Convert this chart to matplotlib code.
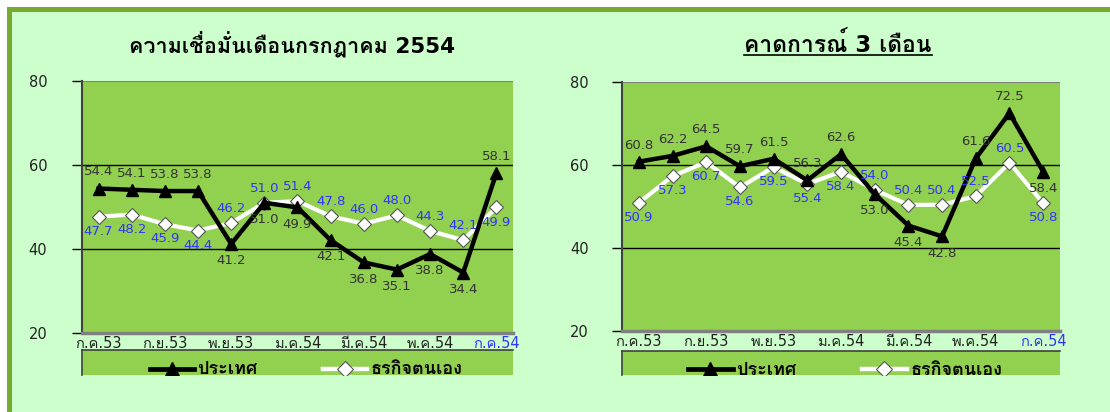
import matplotlib
matplotlib.use("Agg")
import matplotlib.pyplot as plt
from matplotlib.patches import Rectangle
from matplotlib.lines import Line2D

plt.rcParams['font.family'] = ['DejaVu Sans', 'Loma']

months = ['ก.ค.53', 'ส.ค.53', 'ก.ย.53', 'ต.ค.53', 'พ.ย.53', 'ธ.ค.53', 'ม.ค.54',
          'ก.พ.54', 'มี.ค.54', 'เม.ย.54', 'พ.ค.54', 'มิ.ย.54', 'ก.ค.54']

# ความเชื่อมั่นเดือนกรกฎาคม 2554
now_country = [54.4, 54.1, 53.8, 53.8, 41.2, 51.0, 49.9, 42.1, 36.8, 35.1, 38.8, 34.4, 58.1]
now_business = [47.7, 48.2, 45.9, 44.4, 46.2, 51.0, 51.4, 47.8, 46.0, 48.0, 44.3, 42.1, 49.9]

# คาดการณ์ 3 เดือน
fc_country = [60.8, 62.2, 64.5, 59.7, 61.5, 56.3, 62.6, 53.0, 45.4, 42.8, 61.6, 72.5, 58.4]
fc_business = [50.9, 57.3, 60.7, 54.6, 59.5, 55.4, 58.4, 54.0, 50.4, 50.4, 52.5, 60.5, 50.8]

# label side: 1 above, -1 below
now_country_pos = [1, 1, 1, 1, -1, -1, -1, -1, -1, -1, -1, -1, 1]
now_business_pos = [-1, -1, -1, -1, 1, 1, 1, 1, 1, 1, 1, 1, -1]
fc_country_pos = [1, 1, 1, 1, 1, 1, 1, -1, -1, -1, 1, 1, -1]
fc_business_pos = [-1, -1, -1, -1, -1, -1, -1, 1, 1, 1, 1, 1, -1]

W, H = 1110, 412
fig = plt.figure(figsize=(W / 100, H / 100), dpi=100)
fig.patch.set_facecolor('white')

# frame: white margin, green border, light green panel
fig.patches.append(Rectangle((7 / W, 0), 1, (H - 7) / H, transform=fig.transFigure,
                             facecolor='#77AA33', edgecolor='none', zorder=-3))
fig.patches.append(Rectangle((12 / W, 0), 1, (H - 12) / H, transform=fig.transFigure,
                             facecolor='#CCFFCC', edgecolor='none', zorder=-2))

PLOT_GREEN = '#92D050'
LABEL_DARK = '#333333'
LABEL_BLUE = '#3333FF'


def px_axes(x0, y0, x1, y1):
    return fig.add_axes([x0 / W, (H - y1) / H, (x1 - x0) / W, (y1 - y0) / H])


def draw_panel(box, legbox, country, business, cpos, bpos, title, title_x, title_size,
               tick_pad, leg_x):
    ax = px_axes(*box)
    ax.set_facecolor(PLOT_GREEN)
    x = list(range(len(months)))
    ax.plot(x, country, color='black', lw=3.2, marker='^', ms=9, mfc='black',
            mec='black', zorder=4, clip_on=False)
    ax.plot(x, business, color='white', lw=3.0, marker='D', ms=7.5, mfc='white',
            mec='#555555', mew=0.8, zorder=3, clip_on=False)
    for i in x:
        ax.annotate(f'{country[i]:.1f}', (i, country[i]), xytext=(0, 12 * cpos[i]),
                    textcoords='offset points', ha='center', va='center',
                    fontsize=9.5, color=LABEL_DARK, zorder=6, annotation_clip=False)
        ax.annotate(f'{business[i]:.1f}', (i, business[i]), xytext=(0, 10.5 * bpos[i]),
                    textcoords='offset points', ha='center', va='center',
                    fontsize=9.5, color=LABEL_BLUE, zorder=6, annotation_clip=False)
    ax.set_xlim(-0.5, len(months) - 0.5)
    ax.set_ylim(20, 80)
    ax.set_yticks([20, 40, 60, 80])
    ax.tick_params(axis='y', length=7, width=1, color='black', pad=tick_pad,
                   labelsize=10.5, labelcolor='#222222')
    ax.set_xticks(x[::2])
    ax.set_xticklabels(months[::2], fontsize=10.5, color='#222222')
    ax.get_xticklabels()[-1].set_color(LABEL_BLUE)
    ax.tick_params(axis='x', length=0, pad=2)
    for y in (40, 60):
        ax.axhline(y, color='black', lw=1, zorder=1)
    ax.axhline(80, color='#808080', lw=1.5, zorder=1)
    for s in ('top', 'right'):
        ax.spines[s].set_visible(False)
    ax.spines['left'].set_color('#404040')
    ax.spines['left'].set_linewidth(1.5)
    ax.spines['bottom'].set_color('#808080')
    ax.spines['bottom'].set_linewidth(2.5)

    # legend strip (cut off at the bottom, as in the source)
    lg = px_axes(*legbox)
    lg.set_facecolor(PLOT_GREEN)
    lg.set_xlim(0, 1)
    lg.set_ylim(0, 1)
    lg.set_xticks([])
    lg.set_yticks([])
    for s in ('right', 'bottom'):
        lg.spines[s].set_visible(False)
    for s in ('left', 'top'):
        lg.spines[s].set_color('#404040')
        lg.spines[s].set_linewidth(1.2)
    lx, lx2 = leg_x
    lg.plot([lx, lx + 0.102], [0.24, 0.24], color='black', lw=3.4)
    lg.plot([lx + 0.051], [0.24], marker='^', ms=10, color='black', clip_on=True)
    lg.text(lx + 0.11, 0.22, 'ประเทศ', fontsize=13, fontweight='bold',
            va='center', ha='left', clip_on=True)
    lg.plot([lx2, lx2 + 0.102], [0.24, 0.24], color='white', lw=3.2)
    lg.plot([lx2 + 0.051], [0.24], marker='D', ms=8, mfc='white', mec='#555555',
            mew=0.8, clip_on=True)
    lg.text(lx2 + 0.11, 0.22, 'ธุรกิจตนเอง', fontsize=13, fontweight='bold',
            va='center', ha='left', clip_on=True)

    t = fig.text(title_x / W, (H - 45) / H, title, fontsize=title_size,
                 fontweight='bold', ha='center', va='center')
    return t


draw_panel((82, 81, 513, 333), (82, 350, 513, 375), now_country, now_business,
           now_country_pos, now_business_pos, 'ความเชื่อมั่นเดือนกรกฎาคม 2554', 292,
           15.5, 18, (0.158, 0.559))
t2 = draw_panel((622, 82, 1060, 331), (622, 351, 1060, 375), fc_country, fc_business,
                fc_country_pos, fc_business_pos, 'คาดการณ์ 3 เดือน', 838, 16.5, 17,
                (0.151, 0.548))

# underline the forecast title
fig.canvas.draw()
bb = t2.get_window_extent().transformed(fig.transFigure.inverted())
fig.lines.append(Line2D([bb.x0, bb.x1], [(H - 55) / H, (H - 55) / H],
                        transform=fig.transFigure, color='black', lw=1.2))

fig.savefig('out.png', dpi=100, facecolor=fig.get_facecolor())
